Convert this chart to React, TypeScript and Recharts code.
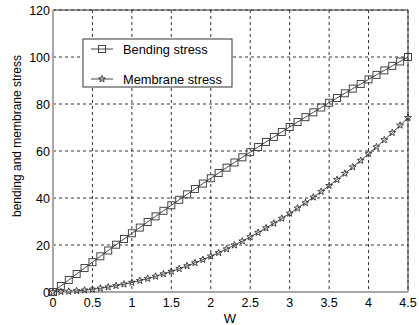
import { CartesianGrid, Line, LineChart, ReferenceLine, XAxis, YAxis } from "recharts";

const wValues = [
  0, 0.1, 0.2, 0.3, 0.4, 0.5, 0.6, 0.7, 0.8, 0.9, 1, 1.1, 1.2, 1.3, 1.4, 1.5, 1.6, 1.7, 1.8, 1.9, 2, 2.1, 2.2,
  2.3, 2.4, 2.5, 2.6, 2.7, 2.8, 2.9, 3, 3.1, 3.2, 3.3, 3.4, 3.5, 3.6, 3.7, 3.8, 3.9, 4, 4.1, 4.2, 4.3, 4.4, 4.5,
];

const bendingStress = [
  0, 2.57, 5.13, 7.67, 10.19, 12.7, 15.19, 17.66, 20.12, 22.57, 25.0, 27.41, 29.8, 32.19, 34.55, 36.9, 39.23,
  41.55, 43.85, 46.13, 48.4, 50.66, 52.9, 55.12, 57.32, 59.51, 61.69, 63.85, 65.99, 68.11, 70.22, 72.32, 74.4,
  76.46, 78.51, 80.54, 82.55, 84.55, 86.54, 88.5, 90.46, 92.39, 94.31, 96.22, 98.1, 100.0,
];

const membraneStress = [
  0, 0.09, 0.24, 0.47, 0.77, 1.14, 1.58, 2.09, 2.67, 3.33, 4.05, 4.85, 5.71, 6.65, 7.66, 8.74, 9.89, 11.11,
  12.4, 13.77, 15.2, 16.71, 18.28, 19.93, 21.65, 23.44, 25.3, 27.23, 29.23, 31.31, 33.45, 35.67, 37.95, 40.31,
  42.74, 45.24, 47.81, 50.45, 53.16, 55.95, 58.8, 61.73, 64.72, 67.79, 70.93, 74.14,
];

const xTicks = [0, 0.5, 1, 1.5, 2, 2.5, 3, 3.5, 4, 4.5];
const yTicks = [0, 20, 40, 60, 80, 100, 120];

const data = wValues.map((w, i) => ({ w, bending: bendingStress[i], membrane: membraneStress[i] }));

const FONT = "'Liberation Sans', Arial, Helvetica, sans-serif";

function starPoints(cx: number, cy: number, r: number) {
  const pts: string[] = [];
  for (let i = 0; i < 10; i++) {
    const rad = i % 2 === 0 ? r : r * 0.42;
    const a = -Math.PI / 2 + (i * Math.PI) / 5;
    pts.push(`${cx + rad * Math.cos(a)},${cy + rad * Math.sin(a)}`);
  }
  return pts.join(" ");
}

function SquareDot(props: { cx?: number; cy?: number; index?: number }) {
  const { cx, cy } = props;
  if (cx == null || cy == null) return null;
  return <rect key={props.index} x={cx - 3.5} y={cy - 3.5} width={7} height={7} fill="none" stroke="#444" strokeWidth={1} />;
}

function StarDot(props: { cx?: number; cy?: number; index?: number }) {
  const { cx, cy } = props;
  if (cx == null || cy == null) return null;
  return <polygon key={props.index} points={starPoints(cx, cy, 3.6)} fill="none" stroke="#333" strokeWidth={0.9} />;
}

function XTick(props: { x?: number; y?: number; payload?: { value?: number } }) {
  return (
    <text x={props.x} y={Number(props.y ?? 0) + 7} textAnchor="middle" fontSize={12.5} fontFamily={FONT} fill="#000">
      {props.payload?.value}
    </text>
  );
}

function YTick(props: { x?: number; y?: number; payload?: { value?: number } }) {
  return (
    <text x={Number(props.x ?? 0) + 5} y={Number(props.y ?? 0) + 4.5} textAnchor="end" fontSize={12.5} fontFamily={FONT} fill="#000">
      {props.payload?.value}
    </text>
  );
}

export default function App() {
  return (
    <div style={{ position: "fixed", left: 0, top: 0, width: 419, height: 325, background: "#fff" }}>
      <LineChart width={419} height={325} data={data} margin={{ top: 10, right: 11, bottom: 0, left: 0 }}>
        <CartesianGrid stroke="#000" strokeDasharray="3 3" strokeWidth={0.8} />
        <XAxis
          dataKey="w"
          type="number"
          domain={[0, 4.5]}
          ticks={xTicks}
          height={33}
          axisLine={{ stroke: "#a8a8a8", strokeWidth: 2 }}
          tickLine={false}
          tick={(p) => <XTick {...p} />}
          interval={0}
        />
        <YAxis
          type="number"
          domain={[0, 120]}
          ticks={yTicks}
          width={53}
          axisLine={{ stroke: "#a8a8a8", strokeWidth: 2 }}
          tickLine={false}
          tick={(p) => <YTick {...p} />}
          interval={0}
        />
        <ReferenceLine y={120} stroke="#333" strokeWidth={1} />
        <ReferenceLine x={4.5} stroke="#333" strokeWidth={1} />
        <Line
          dataKey="bending"
          stroke="#333"
          strokeWidth={0.9}
          dot={(p) => <SquareDot {...p} />}
          isAnimationActive={false}
        />
        <Line
          dataKey="membrane"
          stroke="#333"
          strokeWidth={0.9}
          dot={(p) => <StarDot {...p} />}
          isAnimationActive={false}
        />
      </LineChart>
      <svg width={419} height={325} style={{ position: "absolute", left: 0, top: 0, pointerEvents: "none" }}>
        <text
          transform="translate(21,136) rotate(-90)"
          textAnchor="middle"
          fontSize={12}
          fontFamily={FONT}
          fill="#000"
        >
          bending and membrane stress
        </text>
        <text x={230} y={323} textAnchor="middle" fontSize={13} fontFamily={FONT} fill="#000">
          W
        </text>
        <rect x={83} y={39} width={149} height={48} fill="#fff" stroke="#333" strokeWidth={1} />
        <line x1={91} y1={49} x2={113} y2={49} stroke="#333" strokeWidth={0.9} />
        <rect x={98.5} y={45.5} width={7} height={7} fill="none" stroke="#444" />
        <text x={123} y={53.5} fontSize={12.8} fontFamily={FONT} fill="#000">
          Bending stress
        </text>
        <line x1={91} y1={79} x2={113} y2={79} stroke="#333" strokeWidth={0.9} />
        <polygon points={starPoints(102, 79, 3.6)} fill="none" stroke="#333" strokeWidth={0.9} />
        <text x={123} y={83.5} fontSize={12.8} fontFamily={FONT} fill="#000">
          Membrane stress
        </text>
      </svg>
    </div>
  );
}
